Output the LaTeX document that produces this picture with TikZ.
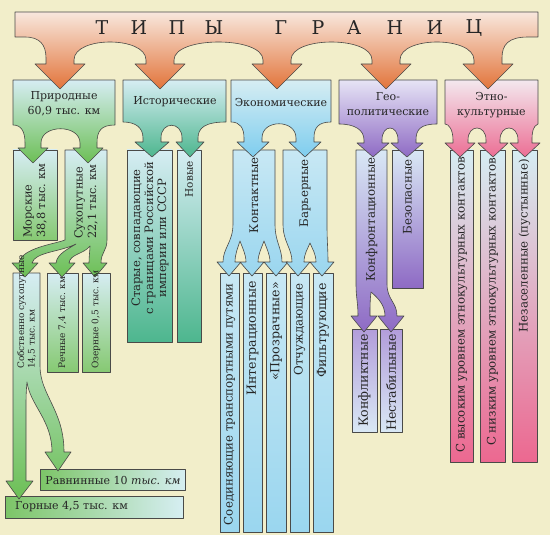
\documentclass[tikz,border=0pt]{standalone}
\usepackage{fontspec}
\setmainfont{DejaVu Serif}
\definecolor{bg}{HTML}{F2EECA}
\definecolor{edge}{HTML}{4A4A48}
\definecolor{ink}{HTML}{262626}
\definecolor{otop}{HTML}{F8E7DD}
\definecolor{omid}{HTML}{EDA373}
\definecolor{obot}{HTML}{E2743A}
\definecolor{ltop}{HTML}{D6EDF3}
\definecolor{gbot}{HTML}{6CBF55}
\definecolor{gsub}{HTML}{86C972}
\definecolor{tbot}{HTML}{4DB68E}
\definecolor{bbot}{HTML}{7ECDEE}
\definecolor{bcol}{HTML}{9AD6EF}
\definecolor{btop}{HTML}{C8E8F4}
\definecolor{ptop}{HTML}{E6E4F5}
\definecolor{pbot}{HTML}{8E6AC4}
\definecolor{pbox}{HTML}{B29DDA}
\definecolor{plt}{HTML}{D9E8F5}
\definecolor{ktop}{HTML}{F3E8EE}
\definecolor{kbot}{HTML}{EC6E94}
\definecolor{kcol}{HTML}{EC6890}
\definecolor{ggr}{HTML}{7CC567}
\definecolor{glt}{HTML}{D6EEF2}
\begin{document}
\begin{tikzpicture}[x=1pt,y=-1pt,
  sh/.style={draw=edge, line width=0.6pt, line join=round},
  hl/.style={font=\fontsize{11}{15}\selectfont, text=ink, align=center, inner sep=0pt},
  vl/.style={font=\fontsize{11.8}{14}\selectfont, text=ink, inner sep=0pt, rotate=90},
  vb/.style={font=\fontsize{12.6}{15}\selectfont, text=ink, inner sep=0pt, rotate=90},
  vs/.style={font=\fontsize{11.3}{13.5}\selectfont, text=ink, inner sep=0pt, rotate=90},
  ttl/.style={font=\fontsize{19}{19}\selectfont, text=ink, inner sep=0pt}]
\useasboundingbox (0,0) rectangle (550,535);
\fill[bg] (0,0) rectangle (550,535);

% ---------- lowest level boxes ----------
\path[sh, left color=ggr, right color=glt] (5,496) rectangle (183,518);
\path[sh, left color=ggr, right color=glt] (40,469) rectangle (185,490);
\path[sh, top color=ltop, bottom color=gsub] (47,273) rectangle (78,372);
\path[sh, top color=ltop, bottom color=gsub] (82,273) rectangle (110,372);
\foreach \a/\b in {220/239, 243/262, 266/286, 290/309, 313/333}
  \path[sh, top color=btop, bottom color=bcol] (\a,273) rectangle (\b,532);
\path[sh, top color=pbox, bottom color=plt] (352,329) rectangle (377,432);
\path[sh, top color=pbox, bottom color=plt] (380,329) rectangle (402,432);

% ---------- Собственно сухопутные with its two arrows ----------
\path[sh, top color=ltop, bottom color=gbot]
  (13,273) -- (40,273) -- (40,366)
  .. controls (40,395) and (64,410) .. (64,452) -- (71,452) -- (58,471) -- (45,452) -- (52,452)
  .. controls (52,420) and (30,405) .. (27,382)
  .. controls (26,392) and (26,400) .. (26,410) -- (26,481) -- (33,481) -- (19,499) -- (6,481) -- (13,481) -- cycle;

% ---------- level 2 ----------
\path[sh, top color=ltop, bottom color=gsub] (13,150) rectangle (57,240);
\path[sh, top color=ltop, bottom color=gbot]
  (65,150) -- (107,150) -- (107,240)
  .. controls (107,251) and (101,252) .. (101,263) -- (107,263) -- (95,277) -- (83,263) -- (89,263)
  .. controls (89,256) and (90,250) .. (90,246)
  .. controls (84,254) and (70,254) .. (69,263) -- (75,263) -- (62,277) -- (49,263) -- (56,263)
  .. controls (57,254) and (68,249) .. (76,244)
  .. controls (60,252) and (35,252) .. (32,263) -- (38,263) -- (25,277) -- (12,263) -- (19,263)
  .. controls (21,248) and (55,244) .. (65,240) -- cycle;
\path[sh, top color=ltop, bottom color=tbot] (127,150) rectangle (172,342);
\path[sh, top color=ltop, bottom color=tbot] (177,150) rectangle (201,342);
\path[sh, top color=btop, bottom color=bcol]
  (233,150) -- (275,150) -- (275,224)
  .. controls (275,242) and (282,248) .. (282,262) -- (288,262) -- (276,276) -- (264,262) -- (270,262)
  .. controls (270,254) and (266,247) .. (264,241)
  .. controls (262,247) and (258,254) .. (258,262) -- (264,262) -- (252,276) -- (240,262) -- (246,262)
  .. controls (246,254) and (242,247) .. (240,241)
  .. controls (238,247) and (235,254) .. (235,262) -- (241,262) -- (229,276) -- (217,262) -- (223,262)
  .. controls (223,248) and (233,242) .. (233,224) -- cycle;
\path[sh, top color=btop, bottom color=bcol]
  (283,150) -- (327,150) -- (327,224)
  .. controls (327,242) and (328,248) .. (328,262) -- (334,262) -- (322,276) -- (310,262) -- (316,262)
  .. controls (316,254) and (312,248) .. (310,243)
  .. controls (308,248) and (304,254) .. (304,262) -- (310,262) -- (298,276) -- (286,262) -- (292,262)
  .. controls (292,248) and (283,242) .. (283,224) -- cycle;
\path[sh, top color=plt, bottom color=pbot]
  (356,150) -- (387,150) -- (387,284)
  .. controls (387,300) and (397,302) .. (397,316) -- (404,316) -- (391,332) -- (378,316) -- (385,316)
  .. controls (385,305) and (378,298) .. (371,292)
  .. controls (370,300) and (370,308) .. (370,316) -- (377,316) -- (364,332) -- (351,316) -- (358,316)
  .. controls (358,302) and (356,298) .. (356,284) -- cycle;
\path[sh, top color=plt, bottom color=pbot] (392,150) rectangle (423,288);
\foreach \a/\b in {450/473, 480/505, 512/537}
  \path[sh, top color=ltop, bottom color=kcol] (\a,150) rectangle (\b,462);

% ---------- level 1 ----------
\path[sh, top color=ltop, bottom color=gbot]
  (13,80) -- (115,80) -- (115,125)
  .. controls (101,125) and (97,131) .. (97,143) -- (97,148) -- (103,148) -- (88,163) -- (73,148) -- (80,148) -- (80,143)
  .. controls (80,124) and (41,124) .. (41,143) -- (41,148) -- (48,148) -- (33,163) -- (18,148) -- (25,148) -- (25,143)
  .. controls (25,131) and (21,125) .. (13,125) -- cycle;
\path[sh, top color=ltop, bottom color=tbot]
  (123,80) -- (226,80) -- (226,122)
  .. controls (205,122) and (198,128) .. (198,138) -- (198,142) -- (204,142) -- (190,157) -- (176,142) -- (182,142) -- (182,138)
  .. controls (182,121) and (161,121) .. (161,138) -- (161,142) -- (169,142) -- (152,157) -- (135,142) -- (143,142) -- (143,138)
  .. controls (143,128) and (136,122) .. (123,122) -- cycle;
\path[sh, top color=ltop, bottom color=bbot]
  (231,80) -- (331,80) -- (331,122)
  .. controls (318,122) and (314,128) .. (314,138) -- (314,142) -- (321,142) -- (305,157) -- (289,142) -- (296,142) -- (296,138)
  .. controls (296,119) and (262,119) .. (262,138) -- (262,142) -- (269,142) -- (253,157) -- (237,142) -- (244,142) -- (244,138)
  .. controls (244,128) and (240,122) .. (231,122) -- cycle;
\path[sh, top color=ptop, bottom color=pbot]
  (339,80) -- (437,80) -- (437,124)
  .. controls (420,124) and (416,130) .. (416,140) -- (416,143) -- (423,143) -- (407,157) -- (391,143) -- (398,143) -- (398,140)
  .. controls (398,124) and (382,124) .. (382,140) -- (382,143) -- (389,143) -- (373,157) -- (357,143) -- (364,143) -- (364,140)
  .. controls (364,130) and (355,124) .. (339,124) -- cycle;
\path[sh, top color=ktop, bottom color=kbot]
  (445,80) -- (538,80) -- (538,124)
  .. controls (533,126) and (532,132) .. (532,140) -- (532,143) -- (540,143) -- (525,157) -- (510,143) -- (518,143) -- (518,140)
  .. controls (518,124) and (500,124) .. (500,140) -- (500,143) -- (508,143) -- (493,157) -- (478,143) -- (486,143) -- (486,140)
  .. controls (486,124) and (468,124) .. (468,140) -- (468,143) -- (475,143) -- (460,157) -- (445,143) -- (453,143) -- (453,140)
  .. controls (453,130) and (449,124) .. (445,124) -- cycle;

% ---------- top band ----------
\path[sh, top color=otop, middle color=omid, bottom color=obot]
  (15,12) -- (538,12) -- (538,37) -- (528,37)
  .. controls (508,37) and (502,45) .. (502,58) -- (502,64) -- (513,64) -- (488,89) -- (463,64) -- (474,64) -- (474,60)
  .. controls (474,36) and (400,36) .. (400,60) -- (400,64) -- (411,64) -- (386,89) -- (361,64) -- (372,64) -- (372,60)
  .. controls (372,36) and (291,36) .. (291,60) -- (291,64) -- (302,64) -- (277,89) -- (252,64) -- (263,64) -- (263,60)
  .. controls (263,36) and (174,36) .. (174,60) -- (174,64) -- (185,64) -- (160,89) -- (135,64) -- (146,64) -- (146,60)
  .. controls (146,36) and (74,36) .. (74,60) -- (74,64) -- (85,64) -- (60,89) -- (35,64) -- (46,64) -- (46,58)
  .. controls (46,45) and (40,37) .. (25,37) -- (15,37) -- cycle;

% ---------- texts ----------
\foreach \l/\x [count=\i] in {Т/102, И/139, П/177, Ы/214, Г/281, Р/318, А/354, Н/395, И/435, Ц/474}
  \node[ttl] (t\i) at (\x,28) {\l};

\node[hl] (nat) at (64,104) {Природные\\60,9 тыс. км};
\node[hl] (his) at (175,102) {Исторические};
\node[hl] (eco) at (281,102) {Экономические};
\node[hl] (geo) at (388,104.5) {Гео-\\политические};
\node[hl] (eth) at (491.5,105) {Этно-\\культурные};

\node[vs, align=left, anchor=west] (sea) at (35,238) {Морские\\38,8 тыс. км};
\node[vs, align=left, anchor=west] (land) at (86,239) {Сухопутные\\22,1 тыс. км};
\node[vs, font=\fontsize{9}{10.5}\selectfont, align=left, anchor=west] (own) at (26.5,369) {Собственно сухопутные\\14,5 тыс. км};
\node[vs, font=\fontsize{9}{11}\selectfont, anchor=west] (riv) at (62.5,369) {Речные 7,4 тыс. км};
\node[vs, font=\fontsize{9}{11}\selectfont, anchor=west] (lak) at (96,369) {Озерные 0,5 тыс. км};
\node[hl] (pla) at (113,480) {Равнинные 10 \textit{тыс. км}};
\node[hl, anchor=west] (mou) at (15,507) {Горные 4,5 тыс. км};

\node[vs, font=\fontsize{11.6}{13}\selectfont, align=center] (old) at (150,238) {Старые, совпадающие\\с границами Российской\\империи или СССР};
\node[vl, font=\fontsize{10.5}{12}\selectfont, anchor=east] (new) at (189,161) {Новые};
\node[vl, anchor=east] (con) at (254,157) {Контактные};
\node[vl, anchor=east] (bar) at (305,159) {Барьерные};
\node[vl, anchor=east] (c1) at (229.5,283) {Соединяющие транспортными путями};
\node[vb, anchor=east] (c2) at (252.5,281) {Интеграционные};
\node[vb, anchor=east] (c3) at (276,282) {«Прозрачные»};
\node[vl, anchor=east] (b1) at (299.5,283) {Отчуждающие};
\node[vb, anchor=east] (b2) at (323,283) {Фильтрующие};
\node[vl, anchor=east] (cf) at (371.5,157) {Конфронтационные};
\node[vl, anchor=east] (sf) at (407.5,159) {Безопасные};
\node[vb, anchor=east] (k1) at (364.5,334) {Конфликтные};
\node[vb, anchor=east] (k2) at (391,334) {Нестабильные};
\node[vl, anchor=east] (e1) at (461.5,157) {С высоким уровнем этнокультурных контактов};
\node[vl, anchor=east] (e2) at (492.5,158) {С низким уровнем этнокультурных контактов};
\node[vl, anchor=east] (e3) at (524.5,159) {Незаселенные (пустынные)};
\end{tikzpicture}
\end{document}
